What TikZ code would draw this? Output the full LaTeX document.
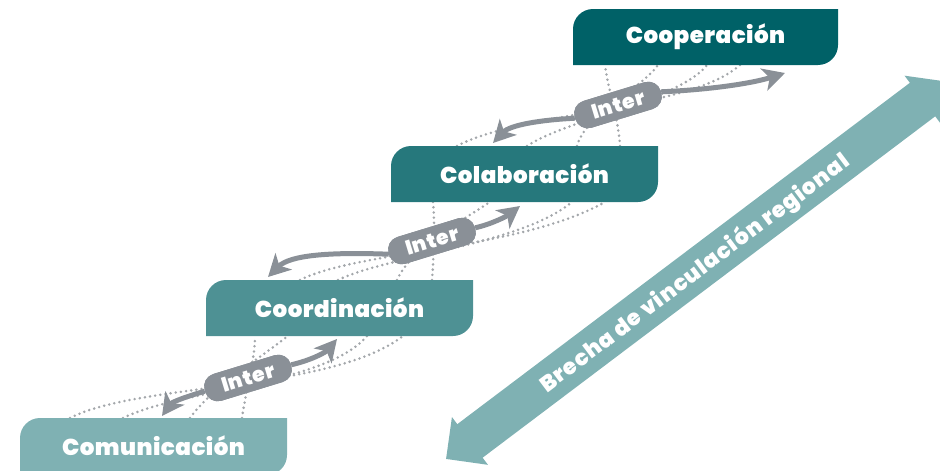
\documentclass[tikz,border=0pt]{standalone}
\usepackage{fontspec}
\setmainfont{Poppins}[BoldFont={Poppins Black}]
\usetikzlibrary{arrows.meta}
\definecolor{cA}{HTML}{7FB1B3}
\definecolor{cB}{HTML}{4E9194}
\definecolor{cC}{HTML}{26787C}
\definecolor{cD}{HTML}{006167}
\definecolor{grc}{HTML}{8A9097}
\definecolor{dotc}{HTML}{A3A7AB}
\newcommand\stepshape[5]{\fill[#5] (#1,#4) -- (#1,#2+20) arc[start angle=180,end angle=270,radius=20] -- (#3,#2) -- (#3,#4-20) arc[start angle=0,end angle=90,radius=20] -- cycle;}
\begin{document}
\begin{tikzpicture}[x=1pt,y=-1pt,
  lbl/.style={text=white,inner sep=0pt,font=\fontsize{23}{25}\selectfont\bfseries\addfontfeature{LetterSpace=2}},
  pill/.style={fill=grc,rounded corners=13pt,minimum width=90pt,minimum height=28pt,inner sep=0pt,text=white,
    font=\fontsize{20.5}{21}\selectfont\bfseries\addfontfeature{LetterSpace=3},rotate=17},
  strand/.style={dotc,line width=2.8pt,line cap=round,dash pattern=on 0pt off 5.2pt},
  link/.style={grc,line width=5pt,-{Stealth[length=22pt,width=23pt,inset=6pt]}},
  gap/.style={cA,line width=42pt,{Triangle[length=30pt,width=58pt]}-{Triangle[length=30pt,width=58pt]}},
]
\useasboundingbox (0,0) rectangle (940,471);

% dotted strands, level 1
\draw[strand] (70,418) .. controls (140,382) and (330,392) .. (403,336);
\draw[strand] (123,418) .. controls (185,388) and (325,385) .. (367,336);
\draw[strand] (190,418) .. controls (210,390) and (250,365) .. (288,336);
\draw[strand] (242,418) .. controls (245,395) and (255,360) .. (255,336);
% level 2
\draw[strand] (300,280) .. controls (360,250) and (520,250) .. (605,202);
\draw[strand] (338,280) .. controls (390,255) and (520,245) .. (572,202);
\draw[strand] (397,280) .. controls (410,250) and (455,225) .. (490,202);
\draw[strand] (432,280) .. controls (434,255) and (435,225) .. (433,202);
% level 3
\draw[strand] (457,146) .. controls (520,112) and (690,110) .. (740,65);
\draw[strand] (527,146) .. controls (570,118) and (680,100) .. (707,65);
\draw[strand] (577,146) .. controls (585,115) and (640,90) .. (658,65);
\draw[strand] (620,146) .. controls (618,115) and (608,90) .. (605,65);

% boxes
\stepshape{20}{418}{287}{475}{cA}
\stepshape{206}{280}{473}{336}{cB}
\stepshape{391}{146}{658}{202}{cC}
\stepshape{573}{9}{838}{65}{cD}
\node[lbl] (com) at (153.5,446) {Comunicación};
\node[lbl] (coo) at (339.5,308) {Coordinación};
\node[lbl] (col) at (524.5,174) {Colaboración};
\node[lbl] (cop) at (705.5,37) {Cooperación};

% arrow tips
\coordinate (l1) at (162,416);
\coordinate (r1) at (337,339);
\coordinate (l2) at (268,277);
\coordinate (r2) at (520,206);
\coordinate (l3) at (493,143);
\coordinate (r3) at (785,73);

% pills
\node[pill] (p1) at (248,378) {Inter};
\node[pill] (p2) at (432,241) {Inter};
\node[pill] (p3) at (618,105) {Inter};

\draw[link] (p1.west) .. controls (185,397) and (172,402) .. (l1);
\draw[link] (p1.east) .. controls (312,360) and (326,352) .. (r1);
\draw[link] (p2.west) .. controls (330,252) and (290,255) .. (l2);
\draw[link] (p2.east) .. controls (492,224) and (507,216) .. (r2);
\draw[link] (p3.west) .. controls (540,120) and (510,125) .. (l3);
\draw[link] (p3.east) .. controls (705,90) and (750,84) .. (r3);

% pills on top of the arrow shafts
\node[pill] at (p1) {Inter};
\node[pill] at (p2) {Inter};
\node[pill] at (p3) {Inter};

% regional gap arrow
\coordinate (gapL) at (446,459);
\coordinate (gapR) at (946.5,81.5);
\draw[gap] (gapL) -- (gapR);
\node[text=white,inner sep=0pt,rotate=37,font=\fontsize{22}{24}\selectfont\bfseries\addfontfeature{LetterSpace=4}] (gaptext) at (695,274) {Brecha de vinculación regional};
\end{tikzpicture}
\end{document}
